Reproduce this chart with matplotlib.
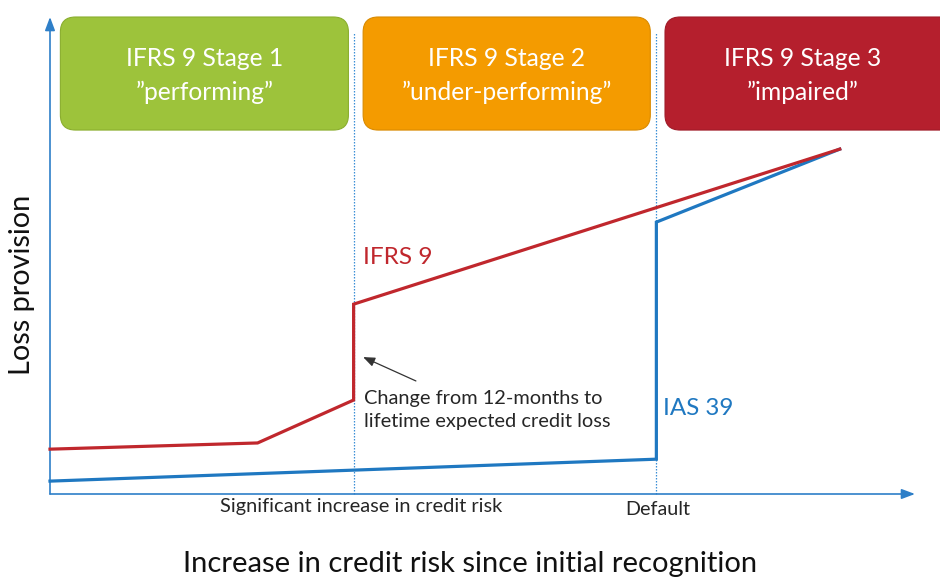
import matplotlib
matplotlib.use("Agg")
import matplotlib.pyplot as plt
from matplotlib.patches import FancyBboxPatch

plt.rcParams['font.family'] = ['Lato', 'DejaVu Sans']

# ---- data (x: increase in credit risk, y: loss provision; arbitrary units 0-100)
ifrs9_x = [0, 24, 35.1, 35.1, 91.3]
ifrs9_y = [9.4, 10.7, 19.7, 39.8, 72.3]
ias39_x = [0, 70.1, 70.1, 91.3]
ias39_y = [2.7, 7.3, 57.0, 72.3]
stage_bounds = [35.1, 70.1]
stage_labels = ['IFRS 9 Stage 1\n\u201dperforming\u201d',
                'IFRS 9 Stage 2\n\u201dunder-performing\u201d',
                'IFRS 9 Stage 3\n\u201dimpaired\u201d']
stage_colors = ['#9DC33B', '#F49B00', '#B51F2D']
stage_edges = ['#8AAE2E', '#D98A00', '#A01B28']
threshold_labels = ['Significant increase in credit risk', 'Default']

RED = '#C0272D'
BLUE = '#1F78C1'
AXC = '#2E7FC8'

fig = plt.figure(figsize=(9.4, 5.78), dpi=100)
W, H = 940, 578
ax = fig.add_axes([50 / W, (H - 494) / H, (915 - 50) / W, (494 - 17) / H])
ax.set_xlim(0, 100)
ax.set_ylim(0, 100)
for s in ax.spines.values():
    s.set_visible(False)
ax.set_xticks([])
ax.set_yticks([])

# axes arrows
ax.annotate('', xy=(0, 1), xytext=(0, 0), xycoords='axes fraction',
            arrowprops=dict(arrowstyle='-|>,head_length=0.8,head_width=0.3',
                            color=AXC, lw=1.2, shrinkA=0, shrinkB=0))
ax.annotate('', xy=(1, 0), xytext=(0, 0), xycoords='axes fraction',
            arrowprops=dict(arrowstyle='-|>,head_length=0.8,head_width=0.3',
                            color=AXC, lw=1.2, shrinkA=0, shrinkB=0))

# stage boundary dotted lines
for b in stage_bounds:
    ax.plot([b, b], [0, 96.6], color='#3A8FD6', lw=0.9, ls=(0, (1.2, 1.2)),
            clip_on=False, zorder=1)

# stage boxes
box_lo, box_hi = 76.3, 100.0
edges = [(1.2, 34.5), (36.2, 69.4), (71.1, 106)]
for (x0, x1), lab, fc, ec in zip(edges, stage_labels, stage_colors, stage_edges):
    p = FancyBboxPatch((x0, box_lo), x1 - x0, box_hi - box_lo,
                       boxstyle='round,pad=0,rounding_size=1.75',
                       mutation_aspect=1.81, fc=fc, ec=ec, lw=0.8,
                       clip_on=False, zorder=2)
    ax.add_patch(p)
    cx = (x0 + min(x1, 102.9)) / 2
    ax.text(cx, (box_lo + box_hi) / 2 - 0.4, lab, color='white', fontsize=17.7,
            ha='center', va='center', linespacing=1.52, zorder=3, clip_on=False)

# lines
ax.plot(ias39_x, ias39_y, color=BLUE, lw=2.3, solid_joinstyle='miter', zorder=4, clip_on=False)
ax.plot(ifrs9_x, ifrs9_y, color=RED, lw=2.3, solid_joinstyle='miter', zorder=5, clip_on=False)

# series labels
ax.text(36.2, 49.5, 'IFRS 9', color=RED, fontsize=17.6, ha='left', va='center')
ax.text(70.9, 18.0, 'IAS 39', color=BLUE, fontsize=17.4, ha='left', va='center')

# annotation
ax.annotate('', xy=(36.2, 28.7), xytext=(42.3, 23.7),
            arrowprops=dict(arrowstyle='-|>,head_length=0.7,head_width=0.28',
                            color='#333333', lw=0.9, shrinkA=0, shrinkB=0))
ax.text(36.3, 17.6, 'Change from 12-months to\nlifetime expected credit loss',
        color='#262626', fontsize=14.4, ha='left', va='center', linespacing=1.45)

# threshold labels
ax.text(stage_bounds[0] + 0.9, -2.7, threshold_labels[0], color='#262626', fontsize=14.4,
        ha='center', va='center', clip_on=False)
ax.text(stage_bounds[1] + 0.2, -3.3, threshold_labels[1], color='#262626', fontsize=14.2,
        ha='center', va='center', clip_on=False)

# axis titles
fig.text(22 / W, 1 - 285 / H, 'Loss provision', rotation=90, fontsize=20.8,
         ha='center', va='center', color='#111111')
fig.text(470 / W, 1 - 564 / H, 'Increase in credit risk since initial recognition',
         fontsize=21, ha='center', va='center', color='#111111')

fig.savefig('out.png', dpi=100)
